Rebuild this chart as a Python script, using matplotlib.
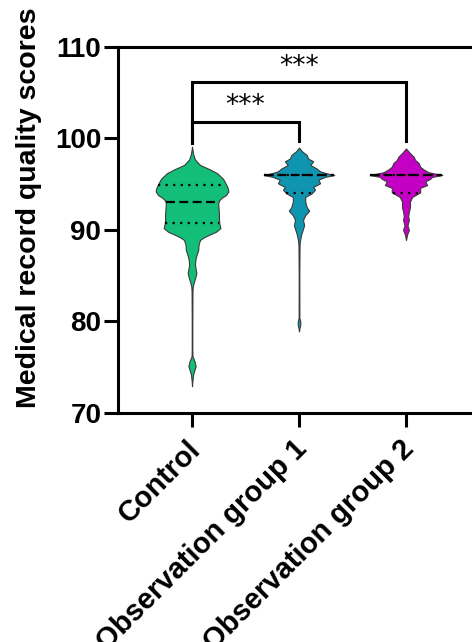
import matplotlib
matplotlib.use('Agg')
import matplotlib.pyplot as plt
import matplotlib.transforms as mtransforms
import numpy as np

plt.rcParams['font.family'] = ['Liberation Sans', 'DejaVu Sans']
plt.rcParams['font.weight'] = 'bold'

groups = ['Control', 'Observation group 1', 'Observation group 2']
colors = ['#12BE78', '#1095B1', '#C500C5']

# violin outlines: score level -> relative density (max = 1)
control_y = [99.1, 98.3, 97.7, 97.1, 96.6, 96.2, 95.6, 95.1, 94.6, 94.2, 93.8, 93.5,
             93.2, 92.9, 92.3, 91.8, 91.2, 90.7, 90.2, 89.8, 89.5, 89.2, 88.9, 88.4,
             87.8, 87.2, 86.7, 86.2, 85.7, 85.3, 84.8, 84.3, 83.8, 83.3, 80.0, 77.0,
             76.2, 75.6, 75.1, 74.6, 74.2, 73.5, 72.9]
control_d = [0.0, 0.03, 0.08, 0.22, 0.5, 0.69, 0.85, 0.92, 0.98, 1.0, 0.93, 0.81,
             0.74, 0.72, 0.73, 0.74, 0.74, 0.75, 0.78, 0.66, 0.49, 0.33, 0.22, 0.18,
             0.17, 0.12, 0.09, 0.08, 0.10, 0.12, 0.09, 0.05, 0.02, 0.012, 0.008, 0.008,
             0.012, 0.07, 0.10, 0.06, 0.03, 0.01, 0.0]

obs1_y = [99.0, 98.6, 98.2, 97.8, 97.5, 97.1, 96.7, 96.4, 96.2, 96.0, 95.8, 95.5,
          95.1, 94.7, 94.4, 94.0, 93.6, 93.1, 92.5, 92.1, 91.6, 91.1, 90.5, 90.0,
          89.5, 88.9, 88.4, 85.0, 80.4, 80.0, 79.6, 79.3, 78.9]
obs1_d = [0.0, 0.08, 0.21, 0.25, 0.39, 0.31, 0.49, 0.58, 0.75, 0.97, 0.72, 0.53,
          0.58, 0.39, 0.44, 0.35, 0.17, 0.17, 0.21, 0.28, 0.17, 0.11, 0.14, 0.10,
          0.06, 0.03, 0.015, 0.008, 0.01, 0.035, 0.035, 0.015, 0.0]

obs2_y = [98.9, 98.4, 98.0, 97.65, 97.3, 96.9, 96.6, 96.3, 96.0, 95.8, 95.6, 95.3,
          94.9, 94.6, 94.1, 93.6, 93.1, 92.5, 92.0, 91.5, 91.1, 90.8, 90.5, 90.0,
          89.5, 88.9]
obs2_d = [0.0, 0.11, 0.21, 0.25, 0.35, 0.39, 0.49, 0.62, 1.0, 0.72, 0.67, 0.53,
          0.58, 0.39, 0.39, 0.17, 0.11, 0.11, 0.08, 0.06, 0.08, 0.06, 0.04, 0.08,
          0.03, 0.0]

# quartiles: Q1, median, Q3
q1 = [90.7, 94.0, 94.0]
medians = [93.0, 96.0, 96.0]
q3 = [94.9, 96.0, 96.0]

profiles = [(control_y, control_d), (obs1_y, obs1_d), (obs2_y, obs2_d)]

fig = plt.figure(figsize=(4.72, 6.42), dpi=100)
ax = fig.add_axes([0.25, 0.357, 0.75, 0.5698])

half = 0.34
for i, (yy, dd) in enumerate(profiles):
    x = i + 1
    yy = np.array(yy)
    dd = np.array(dd) * half
    ax.fill_betweenx(yy, x - dd, x + dd, facecolor=colors[i], edgecolor='#3a3a3a',
                     linewidth=0.8, zorder=2)
    # quartile lines span the violin at that level
    order = np.argsort(yy)
    for val, ls in [(q1[i], (0, (1, 2.4))), (q3[i], (0, (1, 2.4))),
                    (medians[i], (0, (4, 2)))]:
        w = np.interp(val, yy[order], dd[order])
        ax.plot([x - w, x + w], [val, val], color='black', linestyle=ls,
                linewidth=1.6, zorder=3)

# significance brackets
ax.plot([1, 1, 3, 3], [99.5, 106.2, 106.2, 99.7], color='black', linewidth=2.2,
        zorder=4, solid_joinstyle='miter')
ax.plot([1, 1, 2, 2], [99.5, 101.8, 101.8, 99.7], color='black', linewidth=2.2,
        zorder=4, solid_joinstyle='miter')
ax.text(2, 107.8, '***', ha='center', va='center', fontsize=19, fontweight='normal',
        family='DejaVu Sans')
ax.text(1.5, 103.5, '***', ha='center', va='center', fontsize=19, fontweight='normal',
        family='DejaVu Sans')

ax.set_xlim(0.308, 3.617)
ax.set_ylim(70, 110)
ax.set_yticks([70, 80, 90, 100, 110])
ax.set_xticks([1, 2, 3])
ax.tick_params(axis='y', labelsize=20, width=2.2, length=10, pad=2)
ax.tick_params(axis='x', width=2.2, length=10, pad=6)
ax.set_xticklabels(groups, rotation=45, ha='right', va='top',
                   rotation_mode='anchor', fontsize=21, fontweight='bold')
# nudge the rotated labels a little to the left
shift = mtransforms.ScaledTranslation(-6 / 100, 0, fig.dpi_scale_trans)
for lab in ax.get_xticklabels():
    lab.set_transform(lab.get_transform() + shift)
for lab in ax.get_yticklabels():
    lab.set_fontweight('bold')

ax.spines['right'].set_visible(False)
for s in ['left', 'bottom', 'top']:
    ax.spines[s].set_linewidth(2.2)

ax.set_ylabel('Medical record quality scores', fontsize=20.5, fontweight='bold')
ax.yaxis.set_label_coords(-0.215, 0.56)

plt.savefig('out.png', dpi=100)
